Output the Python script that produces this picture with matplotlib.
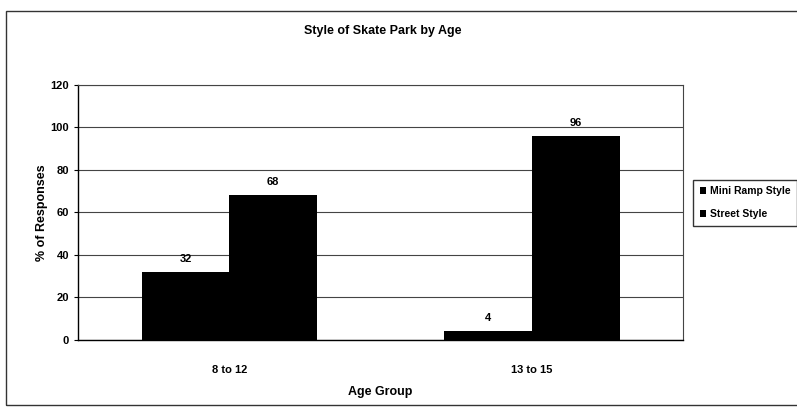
import matplotlib.pyplot as plt
import numpy as np
from matplotlib.patches import Rectangle

plt.rcParams['font.family'] = ['Liberation Sans', 'DejaVu Sans']

age_groups = ['8 to 12', '13 to 15']
mini_ramp = [32, 4]
street = [68, 96]
series_names = ['Mini Ramp Style', 'Street Style']

fig = plt.figure(figsize=(7.97, 4.12), dpi=100)
ax = fig.add_axes([0.098, 0.175, 0.759, 0.619])

x = np.arange(len(age_groups))
width = 0.29
b1 = ax.bar(x - width / 2, mini_ramp, width, color='black', label=series_names[0])
b2 = ax.bar(x + width / 2, street, width, color='black', label=series_names[1])

for bars in (b1, b2):
    for rect in bars:
        h = rect.get_height()
        ax.annotate(f'{h:g}', (rect.get_x() + rect.get_width() / 2, h),
                    xytext=(0, 6), textcoords='offset points',
                    ha='center', va='bottom', fontsize=8, fontweight='bold')

ax.set_xlim(-0.5, 1.5)
ax.set_ylim(0, 120)
ax.set_yticks(range(0, 121, 20))
ax.set_xticks(x)
ax.set_xticklabels(age_groups)
ax.tick_params(axis='both', labelsize=8, length=3, color='black')
ax.tick_params(axis='x', length=0, pad=18)
for lab in ax.get_xticklabels() + ax.get_yticklabels():
    lab.set_fontweight('bold')
ax.yaxis.grid(True, color='#444444', linewidth=0.8)
ax.set_axisbelow(True)
for side in ('top', 'right'):
    ax.spines[side].set_color('#444444')
    ax.spines[side].set_linewidth(0.8)
ax.spines['left'].set_linewidth(1.0)
ax.spines['bottom'].set_linewidth(1.0)

ax.set_ylabel('% of Responses', fontsize=9, fontweight='bold', labelpad=2)
ax.set_xlabel('Age Group', fontsize=9, fontweight='bold', labelpad=8)

fig.text(0.48, 0.925, 'Style of Skate Park by Age', ha='center', va='center',
         fontsize=9, fontweight='bold')

leg = fig.legend(loc='center left', bbox_to_anchor=(0.866, 0.508), fontsize=7.5,
                 frameon=True, fancybox=False, edgecolor='black', handlelength=0.6,
                 handleheight=0.6, handletextpad=0.4, borderpad=0.6, labelspacing=1.3,
                 borderaxespad=0.3)
for t in leg.get_texts():
    t.set_fontweight('bold')

# outer chart frame
fig.patches.append(Rectangle((0.008, 0.018), 1.2, 0.955, transform=fig.transFigure,
                             fill=False, edgecolor='#333333', linewidth=1.0))

fig.savefig('out.png', dpi=100)
